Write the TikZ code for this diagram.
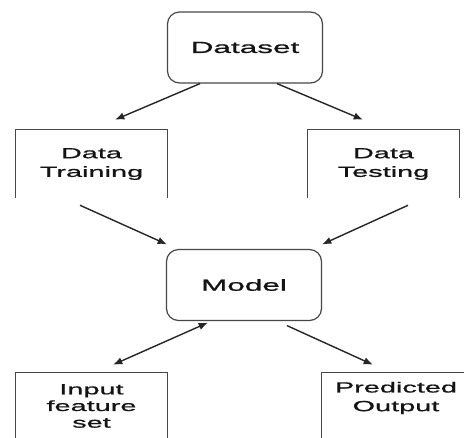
\documentclass[tikz,border=0pt]{standalone}
\usepackage{fontspec}
\setmainfont{Liberation Sans}
\newfontfamily\widefont[FakeStretch=1.97,FakeBold=1]{Liberation Sans}
\usetikzlibrary{calc,arrows.meta}
\begin{document}
\begin{tikzpicture}[x=0.75pt,y=-0.75pt,
  rbox/.style={draw=black!72, line width=0.9pt, rounded corners=9pt,
    minimum width=116.25pt, minimum height=53.25pt, inner sep=0pt,
    font=\widefont\fontsize{12}{14}\selectfont, text=black!92},
  obox/.style={inner sep=0pt, align=center,
    font=\widefont\fontsize{11}{14}\selectfont, text=black!92},
  edge/.style={draw=black!72, line width=0.8pt},
  arr/.style={draw=black!85, line width=1.05pt, -{Latex[length=7pt,width=5.5pt]}},
  darr/.style={draw=black!85, line width=1.05pt, {Latex[length=7pt,width=5.5pt]}-{Latex[length=7pt,width=5.5pt]}}
]
\useasboundingbox (0,0) rectangle (464,437);
\clip (0,0) rectangle (464,437);
\fill[white] (0,0) rectangle (464,437);

% nodes
\node[rbox] (data) at (245,47.5) {Dataset};
\node[rbox] (model) at (244,285) {Model};
\node[obox, minimum width=113.25pt, minimum height=51pt] (train) at (91.5,164) {Data\\Training};
\node[obox, minimum width=113.25pt, minimum height=51pt] (test) at (383.5,164) {Data\\Testing};
\node[obox, minimum width=113.25pt, minimum height=49.5pt, font=\widefont\fontsize{11}{12.5}\selectfont] (input) at (91.5,406) {Input\\feature\\set};
\node[obox, minimum width=111pt, minimum height=37.5pt] (pred) at (396,398) {Predicted\\Output};

% open box outlines
\draw[edge] (train.south west) -- (train.north west) -- (train.north east) -- (train.south east);
\draw[edge] (test.south west) -- (test.north west) -- (test.north east) -- (test.south east);
\draw[edge] ($(input.north west)+(0,80)$) -- (input.north west) -- (input.north east) -- ($(input.north east)+(0,80)$);
\draw[edge] ($(pred.north west)+(0,80)$) -- (pred.north west) -- (pred.north east) -- ($(pred.north east)+(0,80)$);

% connectors
\draw[arr] ($(data.south)+(-45,0)$) -- ($(train.north)+(23.5,-10)$);
\draw[arr] ($(data.south)+(32,0)$) -- ($(test.north)+(-20.5,-10)$);
\draw[arr] ($(train.south)+(-11.5,7)$) -- ($(model.north)+(-77,-4.5)$);
\draw[arr] ($(test.south)+(24.5,7)$) -- ($(model.north)+(78,-4.5)$);
\draw[darr] ($(model.south)+(-36,1.5)$) -- ($(input.north)+(21.5,-8)$);
\draw[arr] ($(model.south)+(43,4.5)$) -- ($(pred.north)+(-23,-8)$);
\end{tikzpicture}
\end{document}
